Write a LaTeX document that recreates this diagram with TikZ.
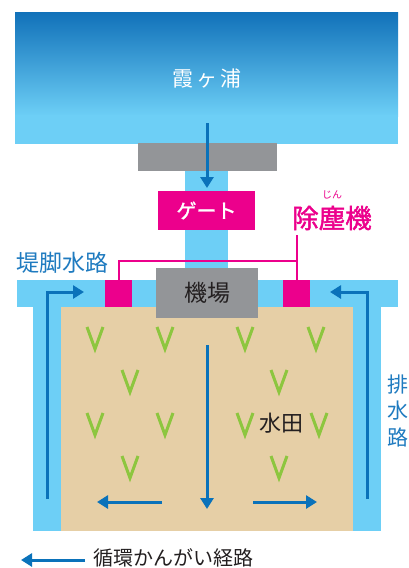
\documentclass[tikz,border=0pt]{standalone}
\usepackage{fontspec}
\newfontfamily\cjk{Noto Sans CJK JP}
\newfontfamily\cjkb{Noto Sans CJK JP}[FakeBold=1.6]
\usetikzlibrary{arrows.meta}
\definecolor{lb}{HTML}{6DCFF6}
\definecolor{lakedark}{HTML}{1171B9}
\definecolor{gry}{HTML}{939598}
\definecolor{pnk}{HTML}{EC008C}
\definecolor{tanf}{HTML}{E6CFA6}
\definecolor{flowblue}{HTML}{0A72BA}
\definecolor{grn}{HTML}{8DC63F}
\definecolor{txtblue}{HTML}{1F7BC0}
\definecolor{dark}{HTML}{231F20}
\tikzset{
  flow/.style={draw=flowblue,line width=3pt,-{Triangle[width=13pt,length=11pt]}},
  pinkline/.style={draw=pnk,line width=2pt},
  pinkbox/.style={fill=pnk,minimum width=27pt,minimum height=27pt,inner sep=0pt},
  vmark/.style={draw=grn,line width=3pt,line cap=butt,line join=miter},
}
\begin{document}
\begin{tikzpicture}[x=1pt,y=-1pt]
\useasboundingbox (0,0) rectangle (409,568);
\fill[white] (0,0) rectangle (409,568);
% lake
\shade[top color=lakedark,bottom color=lb] (15,12) rectangle (398,116);
\fill[lb] (15,115) rectangle (398,144);
\node[text=white,font=\cjk\fontsize{21}{24}\selectfont] (lake) at (207,79) {霞\,ヶ\,浦};
% gate structure
\fill[gry] (138,143) rectangle (277,171);
\fill[lb] (185,171) rectangle (228,282);
\node[fill=pnk,minimum width=97pt,minimum height=39pt,inner sep=0pt,text=white,font=\cjkb\fontsize{20}{24}\selectfont] (gate) at (206.5,210.5) {ゲート};
% canal and field
\fill[lb] (17,280) rectangle (398,307);
\fill[lb] (33,306) rectangle (381,531);
\fill[tanf] (61,307) rectangle (353,531);
% machine house
\node[fill=gry,minimum width=102pt,minimum height=50pt,inner sep=0pt,text=dark,font=\cjk\fontsize{23}{26}\selectfont] (kijo) at (207,293) {機場};
\node[pinkbox] (lbox) at (118.5,293.5) {};
\node[pinkbox] (rbox) at (296.5,293.5) {};
% dust remover label
\node[text=pnk,font=\cjkb\fontsize{26.5}{30}\selectfont] (dust) at (332,218) {除塵機};
\node[text=pnk,font=\cjk\fontsize{10}{12}\selectfont] (ruby) at (332,195) {じん};
\coordinate (tail) at (296.5,235);
\coordinate (jct) at (296.5,261);
\draw[pinkline] (rbox.north) -- (tail);
\draw[pinkline] (lbox.north) |- (jct);
% labels
\node[anchor=west,inner sep=0pt,text=txtblue,font=\cjk\fontsize{23}{26}\selectfont] (teikyaku) at (16,263) {堤脚水路};
\node[text=txtblue,font=\cjk\fontsize{21}{24}\selectfont,inner sep=0pt] (h1) at (398,385) {排};
\node[text=txtblue,font=\cjk\fontsize{21}{24}\selectfont,inner sep=0pt] (h2) at (398,411) {水};
\node[text=txtblue,font=\cjk\fontsize{21}{24}\selectfont,inner sep=0pt] (h3) at (398,437) {路};
\node[text=dark,font=\cjk\fontsize{22}{26}\selectfont] (suiden) at (281,423) {水田};
% rice plants
\foreach \x/\y in {95/338,165/338,245/338,316/338,130/381,279/381,95/424,165/424,245/424,319/424,130/467,279/467}{
  \draw[vmark] (\x-8,\y-11) -- (\x,\y+11) -- (\x+8,\y-11);
}
% flow arrows
\coordinate (a0) at (207,123); \coordinate (a1) at (207,188);
\draw[flow] (a0) -- (a1);
\coordinate (l0) at (47,499); \coordinate (l1) at (47,292); \coordinate (l2) at (84,292);
\draw[flow] (l0) -- (l1) -- (l2);
\coordinate (r0) at (367,499); \coordinate (r1) at (367,292); \coordinate (r2) at (330,292);
\draw[flow] (r0) -- (r1) -- (r2);
\coordinate (c0) at (207,345); \coordinate (c1) at (207,509);
\draw[flow] (c0) -- (c1);
\coordinate (bl0) at (162,502); \coordinate (bl1) at (97,502);
\draw[flow] (bl0) -- (bl1);
\coordinate (br0) at (253,502); \coordinate (br1) at (317,502);
\draw[flow] (br0) -- (br1);
% legend
\coordinate (g0) at (85,560); \coordinate (g1) at (21,560);
\draw[flow] (g0) -- (g1);
\node[anchor=west,inner sep=0pt,text=dark,font=\cjk\fontsize{20}{24}\selectfont] (legend) at (93,558) {循環かんがい経路};
\end{tikzpicture}
\end{document}
